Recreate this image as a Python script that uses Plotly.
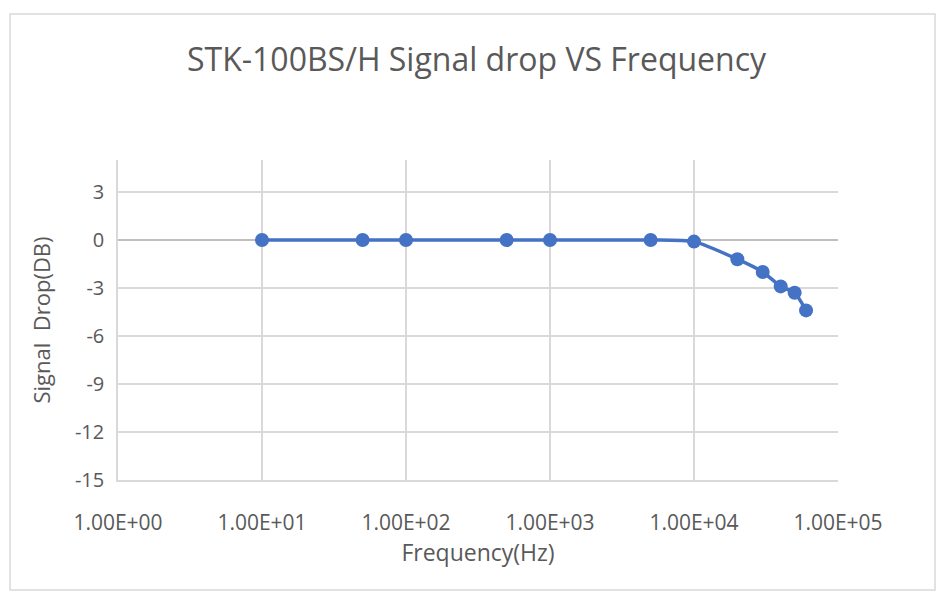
import plotly.graph_objects as go

freq_hz = [10, 50, 100, 500, 1000, 5000, 10000, 20000, 30000, 40000, 50000, 60000]
signal_drop_db = [0, 0, 0, 0, 0, 0, -0.1, -1.2, -2.0, -2.9, -3.3, -4.4]

x_tick_vals = [1, 10, 100, 1000, 10000, 100000]
x_tick_text = ["1.00E+00", "1.00E+01", "1.00E+02", "1.00E+03", "1.00E+04", "1.00E+05"]
y_tick_vals = [-15, -12, -9, -6, -3, 0, 3]
y_tick_text = ["-15", "-12", "-9", "-6", "-3", "0", "3"]

font_family = "Open Sans, Noto Sans, sans-serif"
grey = "#595959"
blue = "#4472C4"

# page body has an 8px margin, so the figure is sized/offset to compensate
W, H = 937, 589
ML, MR, MT, MB = 110, 107, 152, 117
PW, PH = W - ML - MR, H - MT - MB

fig = go.Figure()
fig.add_trace(go.Scatter(
    x=freq_hz, y=signal_drop_db, mode="lines+markers",
    line=dict(color=blue, width=3.5, shape="spline", smoothing=0.6),
    marker=dict(color=blue, size=14),
    showlegend=False,
))

fig.update_layout(
    width=W, height=H,
    margin=dict(l=ML, r=MR, t=MT, b=MB),
    paper_bgcolor="white", plot_bgcolor="white",
    title=dict(text="STK-100BS/H Signal drop VS Frequency", x=0.5, xanchor="center",
               y=1 - 52 / H, yanchor="middle",
               font=dict(family=font_family, size=32, color=grey)),
    font=dict(family=font_family, color=grey),
    shapes=[dict(type="rect", xref="paper", yref="paper",
                 x0=(2 - ML) / PW, x1=(927 - ML) / PW,
                 y0=-(582 - (MT + PH)) / PH, y1=((MT + PH) - 6) / PH,
                 line=dict(color="#d9d9d9", width=1.5), fillcolor="rgba(0,0,0,0)", layer="below")],
)

fig.update_xaxes(
    type="log", range=[0, 5], tickvals=x_tick_vals, ticktext=x_tick_text,
    showgrid=True, gridcolor="#d9d9d9", gridwidth=1.5,
    showline=True, linecolor="#d9d9d9", linewidth=1.5,
    ticks="outside", ticklen=23, tickcolor="rgba(0,0,0,0)",
    tickfont=dict(size=21, color=grey),
    title=dict(text="Frequency(Hz)", font=dict(size=23, color=grey), standoff=3),
)
fig.update_yaxes(
    range=[-15, 5], tickvals=y_tick_vals, ticktext=y_tick_text,
    showgrid=True, gridcolor="#d9d9d9", gridwidth=1.5,
    zeroline=True, zerolinecolor="#bfbfbf", zerolinewidth=1.5,
    showline=True, linecolor="#d9d9d9", linewidth=1.5,
    ticks="outside", ticklen=8, tickcolor="rgba(0,0,0,0)",
    tickfont=dict(size=20, color=grey),
    title=dict(text="Signal  Drop(DB)", font=dict(size=22, color=grey), standoff=18),
)

fig.write_html("out.html")
